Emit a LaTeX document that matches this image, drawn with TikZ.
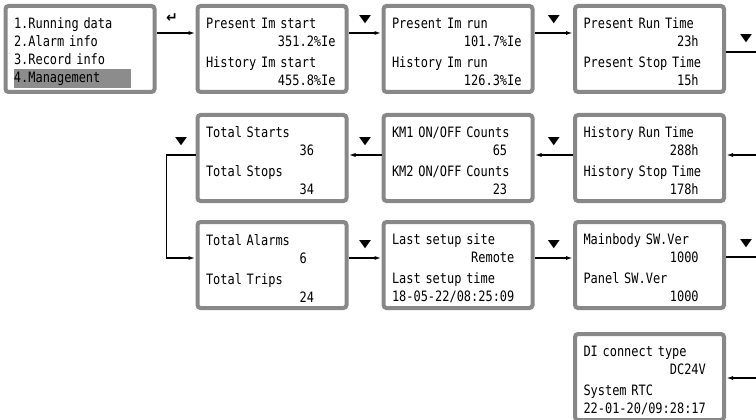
\documentclass[tikz,border=0pt]{standalone}
\usepackage{fontspec}
\usepackage{graphicx}
\usetikzlibrary{arrows.meta}

\newfontfamily\lcdfamily[FakeStretch=0.836]{DejaVu Sans Mono}
\newfontfamily\keyfamily{DejaVu Sans}
\definecolor{lcdgray}{RGB}{136,136,136}
\definecolor{hilite}{RGB}{140,140,140}

\newlength\lcdch
\newcommand\rcol[2]{\settowidth\lcdch{0}\makebox[#1\lcdch][r]{#2}}
\newcommand\screen[4]{\rule{0pt}{17pt}#1\\#2\\[3pt]#3\\#4}
\newcommand\keydown{\resizebox{12pt}{7pt}{\keyfamily ▼}}
\newcommand\keyenter{{\keyfamily\bfseries\fontsize{14}{14}\selectfont ↵}}

\tikzset{
  lcd/.style={draw=lcdgray, line width=4pt, rounded corners=3pt, fill=white,
    minimum width=149pt, minimum height=86pt, text width=132pt, align=left,
    inner sep=0pt, font=\lcdfamily\fontsize{14.3}{18}\selectfont},
  flow/.style={-{Latex[length=7pt,width=4pt]}, line width=1.6pt},
  keymark/.style={above=8pt, inner sep=0pt},
}

\begin{document}
\begin{tikzpicture}[x=1pt,y=1pt]
\useasboundingbox (0,0) rectangle (756,-420);
\clip (0,0) rectangle (756,-420);

% row 1
\node[lcd] (menu) at (80,-49) {\rule{0pt}{19pt}1.Running data\\2.Alarm info\\3.Record info\\\setlength\fboxsep{0pt}\colorbox{hilite}{\makebox[117pt][l]{\rule[-5pt]{0pt}{19pt}4.Management}}};
\node[lcd] (imstart) at (272,-49) {\screen{Present Im start}{\rcol{18}{351.2\%Ie}}{History Im start}{\rcol{18}{455.8\%Ie}}};
\node[lcd] (imrun) at (458,-49) {\screen{Present Im run}{\rcol{18}{101.7\%Ie}}{History Im run}{\rcol{18}{126.3\%Ie}}};
\node[lcd] (runtime) at (649.5,-49) {\screen{Present Run Time}{\rcol{16}{23h}}{Present Stop Time}{\rcol{16}{15h}}};

% row 2
\node[lcd] (starts) at (272,-158) {\screen{Total Starts}{\rcol{15}{36}}{Total Stops}{\rcol{15}{34}}};
\node[lcd] (counts) at (458,-158) {\screen{KM1 ON/OFF Counts}{\rcol{16}{65}}{KM2 ON/OFF Counts}{\rcol{16}{23}}};
\node[lcd] (histtime) at (649.5,-158) {\screen{History Run Time}{\rcol{16}{288h}}{History Stop Time}{\rcol{16}{178h}}};

% row 3
\node[lcd] (alarms) at (272,-265) {\screen{Total Alarms}{\rcol{14}{6}}{Total Trips}{\rcol{15}{24}}};
\node[lcd] (setup) at (458,-265) {\screen{Last setup site}{\rcol{17}{Remote}}{Last setup time}{18-05-22/08:25:09}};
\node[lcd] (swver) at (649.5,-265) {\screen{Mainbody SW.Ver}{\rcol{16}{1000}}{Panel SW.Ver}{\rcol{16}{1000}}};

% row 4
\node[lcd] (dicon) at (649.5,-377) {\screen{DI connect type}{\rcol{17}{DC24V}}{System RTC}{22-01-20/09:28:17}};

% key presses
\draw[flow] ([yshift=16]menu.east) -- node[keymark, above=2pt, xshift=-4pt]{\keyenter} ([yshift=16]imstart.west);
\draw[flow] ([yshift=16]imstart.east) -- node[keymark]{\keydown} ([yshift=16]imrun.west);
\draw[flow] ([yshift=16]imrun.east) -- node[keymark]{\keydown} ([yshift=16]runtime.west);
\draw[flow] ([yshift=-3]runtime.east) -- node[keymark]{\keydown} ++(40,0) |- ([yshift=3]histtime.east);
\draw[flow] ([yshift=3]histtime.west) -- node[keymark]{\keydown} ([yshift=3]counts.east);
\draw[flow] ([yshift=3]counts.west) -- node[keymark]{\keydown} ([yshift=3]starts.east);
\draw[flow] ([yshift=3]starts.west) -- node[keymark]{\keydown} ++(-29,0) |- ([yshift=7]alarms.west);
\draw[flow] ([yshift=7]alarms.east) -- node[keymark]{\keydown} ([yshift=7]setup.west);
\draw[flow] ([yshift=7]setup.east) -- node[keymark]{\keydown} ([yshift=7]swver.west);
\draw[flow] ([yshift=8]swver.east) -- node[keymark]{\keydown} ++(40,0) |- ([yshift=-1]dicon.east);
\end{tikzpicture}
\end{document}
